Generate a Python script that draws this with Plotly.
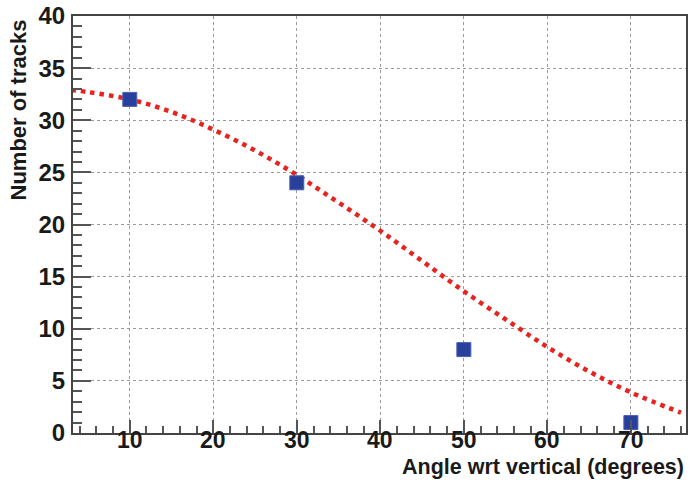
import plotly.graph_objects as go

# Measured data points
angle = [10, 30, 50, 70]
tracks = [32, 24, 8, 1]

# Fitted curve
fit_angle = [3, 5, 10, 15, 20, 25, 30, 35, 40, 45, 50, 55, 60, 65, 70, 76]
fit_tracks = [32.9, 32.7, 32.0, 30.8, 29.1, 27.1, 24.75, 22.1, 19.4, 16.5, 13.6, 10.9, 8.25, 5.9, 3.9, 1.95]

# Axis tick labels
x_ticks = [10, 20, 30, 40, 50, 60, 70]
y_ticks = [0, 5, 10, 15, 20, 25, 30, 35, 40]

x_title = "Angle wrt vertical (degrees)"
y_title = "Number of tracks"

FONT = "Liberation Sans"
TXT = "#1a1a1a"

fig = go.Figure()
fig.add_trace(go.Scatter(
    x=fit_angle, y=fit_tracks, mode="lines",
    line=dict(color="#e8231f", width=4.5, dash="4.5px,5px", shape="spline"),
    hoverinfo="skip", showlegend=False,
))
fig.add_trace(go.Scatter(
    x=angle, y=tracks, mode="markers",
    marker=dict(symbol="square", size=14, color="#27409c",
                line=dict(color="#4a5fb0", width=1)),
    showlegend=False,
))

fig.update_xaxes(
    range=[3.2, 76.6], tickvals=x_ticks, ticklen=13, showticklabels=False,
    showline=True, linecolor="#444444", linewidth=2, mirror=True,
    ticks="inside", tickcolor="#555555", tickwidth=2,
    showgrid=True, gridcolor="#9a9a9a", griddash="dot", gridwidth=1,
    zeroline=False,
    minor=dict(ticks="inside", dtick=2, tick0=0, ticklen=7, tickcolor="#555555", tickwidth=1.5, showgrid=False),
)
fig.update_yaxes(
    range=[0, 40], tickvals=y_ticks, ticklen=18,
    showline=True, linecolor="#444444", linewidth=2, mirror=True,
    ticks="inside", tickcolor="#555555", tickwidth=2,
    showgrid=True, gridcolor="#9a9a9a", griddash="dot", gridwidth=1,
    zeroline=False,
    tickfont=dict(family=FONT, size=24, color=TXT, weight="bold"),
    minor=dict(ticks="inside", dtick=1, tick0=0, ticklen=9, tickcolor="#555555", tickwidth=1.5, showgrid=False),
    ticklabelstandoff=1,
)

for v in x_ticks:
    fig.add_annotation(
        text=str(v), xref="x", yref="paper", x=v, y=0,
        xanchor="center", yanchor="top", yshift=8, showarrow=False,
        font=dict(family=FONT, size=23, color=TXT, weight="bold"),
    )

fig.add_annotation(
    text=y_title, textangle=-90, xref="paper", yref="paper",
    x=0, y=1, xanchor="center", yanchor="top", xshift=-55, yshift=-2,
    showarrow=False,
    font=dict(family=FONT, size=22, color=TXT, weight="bold"),
)
fig.add_annotation(
    text=x_title, xref="paper", yref="paper",
    x=1, y=0, xanchor="right", yanchor="top", yshift=-20, xshift=0,
    showarrow=False,
    font=dict(family=FONT, size=21.5, color=TXT, weight="bold"),
)

fig.update_layout(
    width=690, height=483,
    margin=dict(l=73, r=2, t=16, b=50),
    paper_bgcolor="white", plot_bgcolor="white",
    font=dict(family=FONT),
)

fig.write_html("out.html")
